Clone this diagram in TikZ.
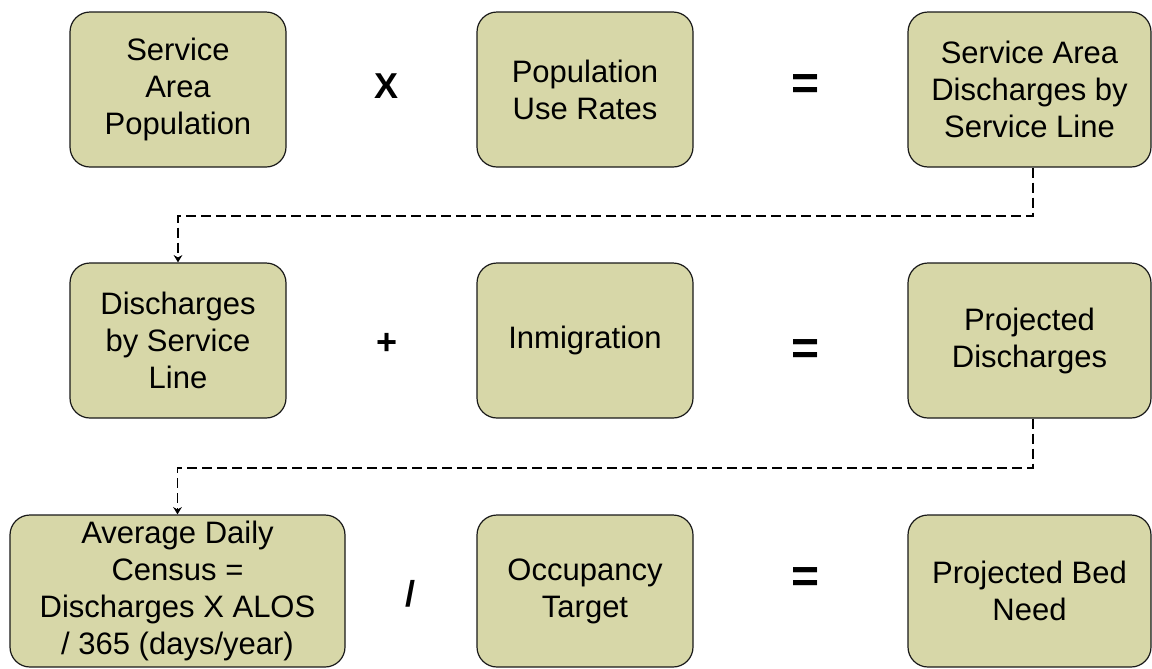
\documentclass[tikz,border=0pt]{standalone}
\usepackage{fontspec}
\setmainfont{Liberation Sans}
\usepackage{xcolor}
\usepackage{tikz}
\usetikzlibrary{positioning,calc,arrows.meta}

\definecolor{boxfill}{RGB}{215,215,168}

\begin{document}
\begin{tikzpicture}[x=0.75pt, y=-0.75pt,
    block/.style={draw=black!90, line width=0.9pt, fill=boxfill, rounded corners=15pt,
        align=center, inner sep=0pt, minimum width=162pt, minimum height=116.25pt,
        font=\fontsize{23.25}{27.75}\selectfont},
    op/.style={font=\fontsize{27}{27}\selectfont\bfseries},
    flow/.style={line width=1.4pt, dash pattern=on 7.5pt off 3.75pt,
        -{Stealth[length=5.5pt,width=6.5pt]}}]
    \useasboundingbox (0,0) rectangle (1152,668);

    % Row 1: population x use rates
    \node[block] (pop) at (178,89.5) {Service\\Area\\Population};
    \node[block] (rates) at (585,89.5) {Population\\Use Rates};
    \node[block, minimum width=182.25pt] (sadis) at (1029.5,89.5) {Service Area\\Discharges by\\Service Line};

    % Row 2: discharges + inmigration
    \node[block] (dis) at (178,340.5) {Discharges\\by Service\\Line};
    \node[block] (inmig) at (585,340.5) {Inmigration};
    \node[block, minimum width=182.25pt] (projdis) at (1029.5,340.5) {Projected\\Discharges};

    % Row 3: census / occupancy
    \node[block, minimum width=251.25pt, minimum height=114pt] (adc) at (177.5,591)
        {Average Daily\\Census =\\Discharges X ALOS\\/ 365 (days/year)};
    \node[block, minimum height=114pt] (occ) at (585,591) {Occupancy\\Target};
    \node[block, minimum width=182.25pt, minimum height=114pt] (beds) at (1029.5,591) {Projected Bed\\Need};

    % Operators between the boxes
    \foreach \name/\x/\y/\sym in {opx/387/86/X, opplus/387/344/+, opdiv/410/594/{/}} {
        \node[op] (\name) at (\x,\y) {\sym};
    }
    \foreach \name/\y in {eqa/87, eqb/352, eqc/580} {
        \node[op, font=\fontsize{36}{36}\selectfont\bfseries] (\name) at (806,\y) {=};
    }

    % Carry the result down to the next row
    \draw[flow] ([xshift=2.6pt]sadis.south) -- ++(0,48) -| (dis.north);
    \draw[flow] ([xshift=2.6pt]projdis.south) -- ++(0,49) -| (adc.north);
\end{tikzpicture}
\end{document}
